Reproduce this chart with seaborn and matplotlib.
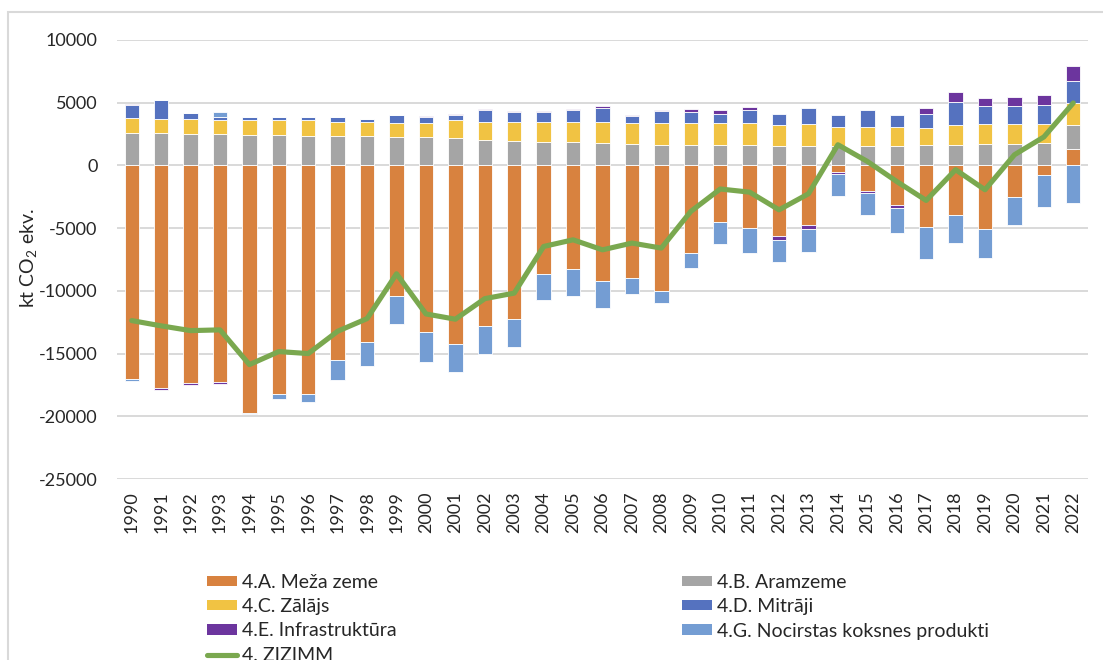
import numpy as np
import matplotlib
matplotlib.use("Agg")
import matplotlib.pyplot as plt
from matplotlib.patches import Patch, Rectangle
from matplotlib.lines import Line2D
import seaborn as sns

# LULUCF sector emissions/removals, kt CO2 eq.
years = [str(y) for y in range(1990, 2023)]

forest_land = [-17020, -17720, -17340, -17260, -19710, -18200, -18200, -15510, -14050, -10380,
               -13250, -14230, -12770, -12240, -8620, -8270, -9180, -8990, -9980, -6990,
               -4550, -5000, -5590, -4760, -500, -2040, -3190, -4920, -3940, -5080,
               -2550, -740, 1330]
cropland = [2590, 2590, 2510, 2510, 2390, 2390, 2310, 2310, 2310, 2240,
            2240, 2160, 2050, 1950, 1870, 1870, 1790, 1680, 1600, 1600,
            1600, 1600, 1520, 1520, 1520, 1520, 1520, 1600, 1600, 1680,
            1680, 1790, 1890]
grassland = [1200, 1090, 1200, 1090, 1200, 1200, 1280, 1170, 1170, 1150,
             1150, 1440, 1440, 1540, 1620, 1620, 1700, 1710, 1790, 1790,
             1790, 1790, 1710, 1790, 1550, 1550, 1550, 1360, 1630, 1630,
             1630, 1520, 1720]
wetlands = [1010, 1550, 480, 240, 270, 270, 270, 380, 220, 640,
            480, 430, 930, 780, 780, 930, 1090, 580, 980, 850,
            740, 1040, 900, 1280, 960, 1320, 960, 1170, 1800, 1460,
            1460, 1540, 1810]
settlements = [80, -180, -140, -140, 0, 0, 0, 0, 0, 0,
               110, 110, 80, 80, 80, 80, 160, 60, 60, 270,
               260, 240, -320, -320, -160, -160, -180, 460, 830, 610,
               720, 740, 1140]
hwp = [-160, 0, 0, 400, -130, -450, -640, -1600, -1940, -2290,
       -2420, -2230, -2240, -2240, -2130, -2130, -2210, -1230, -960, -1220,
       -1680, -2000, -1810, -1810, -1780, -1790, -2050, -2510, -2230, -2270,
       -2180, -2610, -2980]
lulucf_total = [-12370, -12790, -13170, -13110, -15880, -14840, -15000, -13220, -12210, -8640,
                -11840, -12260, -10620, -10180, -6460, -5930, -6730, -6190, -6590, -3670,
                -1880, -2130, -3540, -2260, 1650, 320, -1280, -2790, -340, -1940,
                850, 2270, 4980]

series_names = ["4.A. Meža zeme", "4.B. Aramzeme", "4.C. Zālājs", "4.D. Mitrāji",
                "4.E. Infrastruktūra", "4.G. Nocirstas koksnes produkti"]
line_name = "4. ZIZIMM"
y_ticks = [-25000, -20000, -15000, -10000, -5000, 0, 5000, 10000]

colors = ["#D8823F", "#A5A5A5", "#F1C343", "#5572BF", "#6C359E", "#749DD3"]
line_color = "#7AA84F"

sns.set_theme(style="white")
plt.rcParams["font.family"] = ["Lato", "DejaVu Sans"]
plt.rcParams["axes.unicode_minus"] = False
plt.rcParams["mathtext.fontset"] = "custom"
plt.rcParams["mathtext.rm"] = "Lato"

W, H = 1103, 660
fig = plt.figure(figsize=(W / 100, H / 100), dpi=100)
fig.patch.set_facecolor("white")
ax = fig.add_axes([117 / W, 1 - 479 / H, (1088 - 117) / W, (479 - 40) / H])

# stacked bars: positive and negative parts pile up separately
pos_base = np.zeros(len(years))
neg_base = np.zeros(len(years))
for vals, col in zip([forest_land, cropland, grassland, wetlands, settlements, hwp], colors):
    v = np.asarray(vals, dtype=float)
    bottom = np.where(v >= 0, pos_base, neg_base)
    sns.barplot(x=years, y=v, bottom=bottom, color=col, saturation=1, width=0.49,
                errorbar=None, ax=ax, linewidth=0.6, edgecolor="white", zorder=2)
    pos_base = pos_base + np.where(v >= 0, v, 0)
    neg_base = neg_base + np.where(v < 0, v, 0)

sns.lineplot(x=np.arange(len(years)), y=lulucf_total, color=line_color, linewidth=3.7,
             ax=ax, zorder=3, solid_joinstyle="round", solid_capstyle="round")

ax.set_xlim(-0.5, len(years) - 0.5)
ax.set_ylim(-25000, 10000)
ax.set_yticks(y_ticks)
ax.set_yticklabels([str(t) for t in y_ticks])
ax.set_xticks(range(len(years)))
ax.set_xticklabels(years, rotation=90)
ax.tick_params(axis="y", length=0, pad=14, labelsize=13, labelcolor="#262626")
ax.tick_params(axis="x", length=0, pad=9, labelsize=13, labelcolor="#262626")
ax.set_xlabel("")
ax.set_ylabel("")
ax.yaxis.grid(True, color="#d9d9d9", linewidth=1.4, zorder=0)
ax.xaxis.grid(False)
ax.set_axisbelow(True)
for s in ax.spines.values():
    s.set_visible(False)

fig.text(29 / W, 1 - 258 / H, "kt CO$_2$ ekv.", rotation=90, ha="center", va="center",
         fontsize=14, color="#262626")

# chart area frame
fig.patches.append(Rectangle((8 / W, -0.2), 1.2, 1.2 - 12 / H,
                             transform=fig.transFigure, fill=False,
                             edgecolor="#d9d9d9", linewidth=1.5))

handles = [Patch(facecolor=c, edgecolor="none") for c in colors]
line_handle = Line2D([0], [0], color=line_color, linewidth=3.7)
order_h = [handles[0], handles[2], handles[4], line_handle, handles[1], handles[3], handles[5]]
order_l = [series_names[0], series_names[2], series_names[4], line_name,
           series_names[1], series_names[3], series_names[5]]
fig.legend(order_h, order_l, ncol=2, loc="upper left", bbox_to_anchor=(197 / W, 1 - 564 / H),
           frameon=False, fontsize=14, handlelength=1.55, handleheight=0.45,
           handletextpad=0.25, columnspacing=14.7, labelspacing=0.38, borderpad=0,
           labelcolor="#262626")

fig.savefig("out.png", dpi=100)
